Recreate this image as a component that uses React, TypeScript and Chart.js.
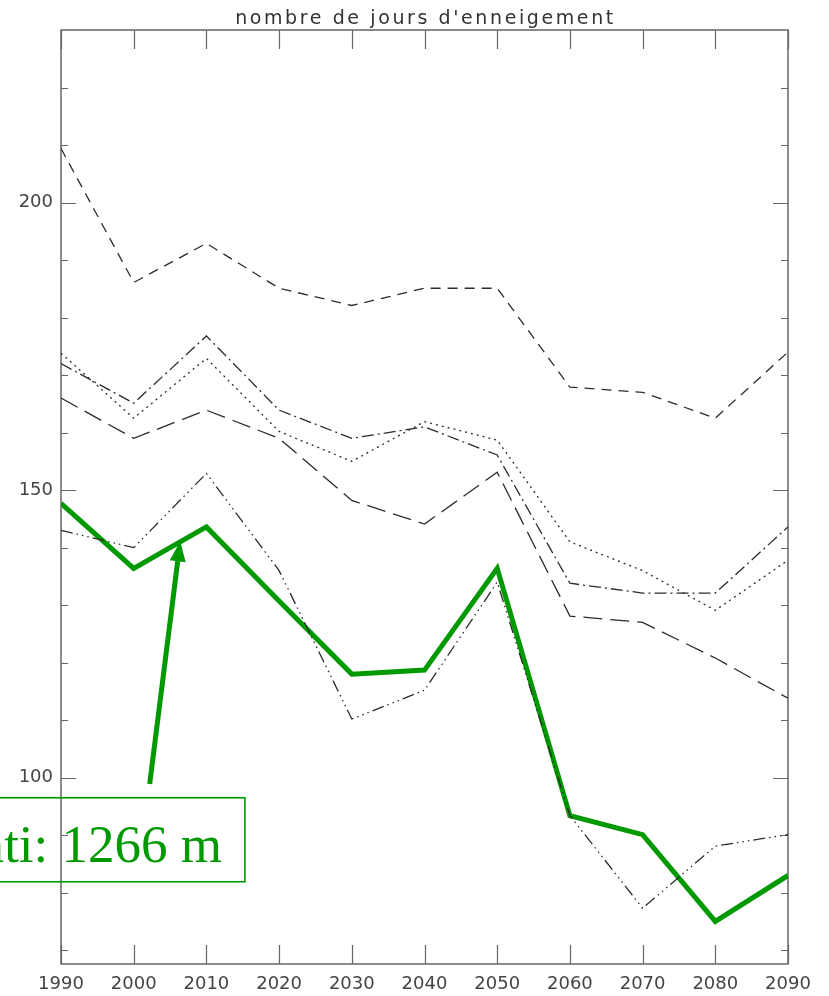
import React, { useEffect, useRef } from 'react';
import { Chart, registerables } from 'chart.js';

Chart.register(...registerables);

// ---- data ----
const years = [1990, 2000, 2010, 2020, 2030, 2040, 2050, 2060, 2070, 2080, 2090];
const seriesShortDash = [209.4, 186.1, 192.9, 185.1, 182.1, 185.1, 185.1, 167.9, 167.0, 162.5, 174.0];
const seriesDashDot = [172.0, 165.1, 176.8, 163.9, 159.0, 161.0, 156.1, 133.8, 132.1, 132.1, 143.6];
const seriesDotted = [173.8, 162.5, 172.9, 160.2, 155.0, 161.9, 158.7, 141.0, 136.0, 129.1, 137.8];
const seriesLongDash = [166.0, 159.0, 163.9, 159.0, 148.2, 144.1, 153.1, 128.1, 127.0, 120.8, 113.8];
const seriesDashDotDot = [143.0, 140.0, 152.9, 136.0, 110.2, 115.2, 134.0, 93.4, 77.3, 88.1, 90.1];
const seriesStation = [147.7, 136.4, 143.6, 130.7, 118.0, 118.7, 136.4, 93.4, 90.1, 75.0, 83.0];

const yLabelTicks = [100, 150, 200];
const yMinorTicks = [70, 80, 90, 100, 110, 120, 130, 140, 150, 160, 170, 180, 190, 200, 210, 220];
const yMin = 67.6;
const yMax = 230;

const chartTitle = "nombre de jours d'enneigement";
const annotationText = 'ati: 1266 m';
// annotation anchors in data units (year, days)
const arrowTip = { x: 2006.4, y: 141.1 };
const arrowTail = { x: 2002.2, y: 98.9 };
const boxRightYear = 2015.3;
const boxTopValue = 96.5;
const boxBottomValue = 81.9;
const textRightYear = 2012.15;
const textBaselineValue = 85.35;

const GREEN = '#009900';
const LINE = '#2b2b2b';

export default function App() {
  const ref = useRef<HTMLCanvasElement | null>(null);

  useEffect(() => {
    const canvas = ref.current;
    if (!canvas) return;

    const mk = (data: number[], dash: number[], color = LINE, width = 1.3) => ({
      data: years.map((x, i) => ({ x, y: data[i] })),
      borderColor: color,
      borderWidth: width,
      borderDash: dash,
      pointRadius: 0,
      pointHoverRadius: 0,
      fill: false,
      tension: 0,
      borderJoinStyle: 'miter' as const,
      borderCapStyle: 'butt' as const,
    });

    const framePlugin = {
      id: 'frame',
      beforeDatasetsDraw(chart: any) {
        const { ctx, chartArea: a, scales } = chart;
        const x = scales.x;
        const y = scales.y;
        ctx.save();
        ctx.strokeStyle = '#666';
        ctx.lineWidth = 1.5;
        ctx.strokeRect(a.left, a.top, a.right - a.left, a.bottom - a.top);
        ctx.lineWidth = 1.2;
        ctx.beginPath();
        years.forEach((v) => {
          const px = Math.round(x.getPixelForValue(v)) + 0.5;
          ctx.moveTo(px, a.bottom);
          ctx.lineTo(px, a.bottom - 19);
          ctx.moveTo(px, a.top);
          ctx.lineTo(px, a.top + 19);
        });
        yMinorTicks.forEach((v) => {
          const py = Math.round(y.getPixelForValue(v)) + 0.5;
          const len = yLabelTicks.includes(v) ? 15 : 7;
          ctx.moveTo(a.left, py);
          ctx.lineTo(a.left + len, py);
          ctx.moveTo(a.right, py);
          ctx.lineTo(a.right - len, py);
        });
        ctx.stroke();

        // title
        ctx.fillStyle = '#333';
        ctx.font = '19px "DejaVu Sans"';
        (ctx as any).letterSpacing = '2.6px';
        ctx.textAlign = 'center';
        ctx.textBaseline = 'alphabetic';
        ctx.fillText(chartTitle, (a.left + a.right) / 2 + 1, 24);
        (ctx as any).letterSpacing = '0px';
        ctx.restore();
      },
      afterDatasetsDraw(chart: any) {
        const { ctx, scales } = chart;
        const x = scales.x;
        const y = scales.y;
        ctx.save();
        // box
        const bx = x.getPixelForValue(boxRightYear);
        const bt = y.getPixelForValue(boxTopValue);
        const bb = y.getPixelForValue(boxBottomValue);
        ctx.strokeStyle = GREEN;
        ctx.lineWidth = 1.6;
        ctx.strokeRect(-10, bt, bx + 10, bb - bt);
        // text
        ctx.fillStyle = GREEN;
        ctx.font = '53px "Liberation Serif", "Times New Roman", serif';
        ctx.textAlign = 'right';
        ctx.textBaseline = 'alphabetic';
        ctx.fillText(annotationText, x.getPixelForValue(textRightYear), y.getPixelForValue(textBaselineValue));
        // arrow
        const tx = x.getPixelForValue(arrowTip.x);
        const ty = y.getPixelForValue(arrowTip.y);
        const sx = x.getPixelForValue(arrowTail.x);
        const sy = y.getPixelForValue(arrowTail.y);
        const ang = Math.atan2(ty - sy, tx - sx);
        const headLen = 20;
        const headHalf = 8;
        const baseX = tx - headLen * Math.cos(ang);
        const baseY = ty - headLen * Math.sin(ang);
        ctx.strokeStyle = GREEN;
        ctx.lineWidth = 5;
        ctx.lineCap = 'butt';
        ctx.beginPath();
        ctx.moveTo(sx, sy);
        ctx.lineTo(baseX, baseY);
        ctx.stroke();
        ctx.beginPath();
        ctx.moveTo(tx, ty);
        ctx.lineTo(baseX + headHalf * Math.sin(ang), baseY - headHalf * Math.cos(ang));
        ctx.lineTo(baseX - headHalf * Math.sin(ang), baseY + headHalf * Math.cos(ang));
        ctx.closePath();
        ctx.fill();
        ctx.restore();
      },
    };

    const chart = new Chart(canvas, {
      type: 'line',
      data: {
        datasets: [
          mk(seriesShortDash, [10, 7]),
          mk(seriesDashDot, [12, 4, 2, 4]),
          mk(seriesDotted, [2, 4]),
          mk(seriesLongDash, [19, 8]),
          mk(seriesDashDotDot, [12, 4, 1.5, 4, 1.5, 4, 1.5, 4]),
          mk(seriesStation, [], GREEN, 5),
        ] as any,
      },
      options: {
        responsive: false,
        animation: false,
        devicePixelRatio: 1,
        layout: { padding: { top: 30, right: 41, left: 0, bottom: 0 } },
        plugins: {
          legend: { display: false },
          tooltip: { enabled: false },
          title: { display: false },
        },
        events: [],
        scales: {
          x: {
            type: 'linear',
            min: 1990,
            max: 2090,
            afterBuildTicks: (s: any) => {
              s.ticks = years.map((v) => ({ value: v }));
            },
            ticks: {
              font: { family: 'DejaVu Sans', size: 18 },
              color: '#444',
              padding: 10,
              maxRotation: 0,
              autoSkip: false,
              callback: (v: any) => String(v),
            },
            grid: { display: false, drawTicks: false },
            border: { display: false },
            afterFit: (s: any) => {
              s.height = 32;
            },
          },
          y: {
            type: 'linear',
            min: yMin,
            max: yMax,
            afterBuildTicks: (s: any) => {
              s.ticks = yLabelTicks.map((v) => ({ value: v }));
            },
            ticks: {
              font: { family: 'DejaVu Sans', size: 18 },
              color: '#444',
              padding: 8,
              callback: (v: any) => String(v),
            },
            grid: { display: false, drawTicks: false },
            border: { display: false },
            afterFit: (s: any) => {
              s.width = 61;
            },
          },
        },
      } as any,
      plugins: [framePlugin],
    });

    return () => chart.destroy();
  }, []);

  return (
    <div style={{ position: 'absolute', left: 0, top: 0, width: 829, height: 996, background: '#fff' }}>
      <canvas ref={ref} width={829} height={996} style={{ display: 'block', width: 829, height: 996 }} />
    </div>
  );
}
